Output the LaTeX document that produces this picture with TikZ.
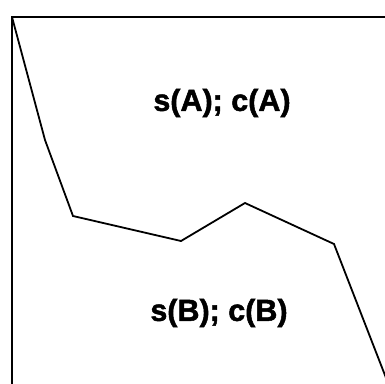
\documentclass[tikz,border=0pt]{standalone}
\usepackage{fontspec}
\setmainfont{Liberation Sans}
\newfontfamily\heavyfont[FakeBold=1.6]{Liberation Sans Bold}
\usetikzlibrary{positioning}

\begin{document}
\begin{tikzpicture}[x=1pt,y=-1pt,line width=1.8pt,
    region/.style={font=\heavyfont\fontsize{30.5}{30}\selectfont}]
        \useasboundingbox (0,0) rectangle (385,383);
        \clip (0,0) rectangle (385,383);
        % frame
        \coordinate (tl) at (12,17);
        \coordinate (tr) at (386,17);
        \coordinate (bl) at (12,384);
        \draw[line width=2.2pt] (tr) -- (tl) -- (bl);
        % boundary between the regions
        \coordinate (p1) at (45,140);
        \coordinate (p2) at (73,216);
        \coordinate (p3) at (181,241);
        \coordinate (p4) at (245,203);
        \coordinate (p5) at (334,244);
        \coordinate (p6) at (388,383);
        \draw[line join=miter] (tl) -- (p1) -- (p2) -- (p3) -- (p4) -- (p5) -- (p6);
        \node[region] (ra) at (222,103) {s(A); c(A)};
        \node[region] (rb) at (219,313) {s(B); c(B)};
    \end{tikzpicture}
\end{document}
